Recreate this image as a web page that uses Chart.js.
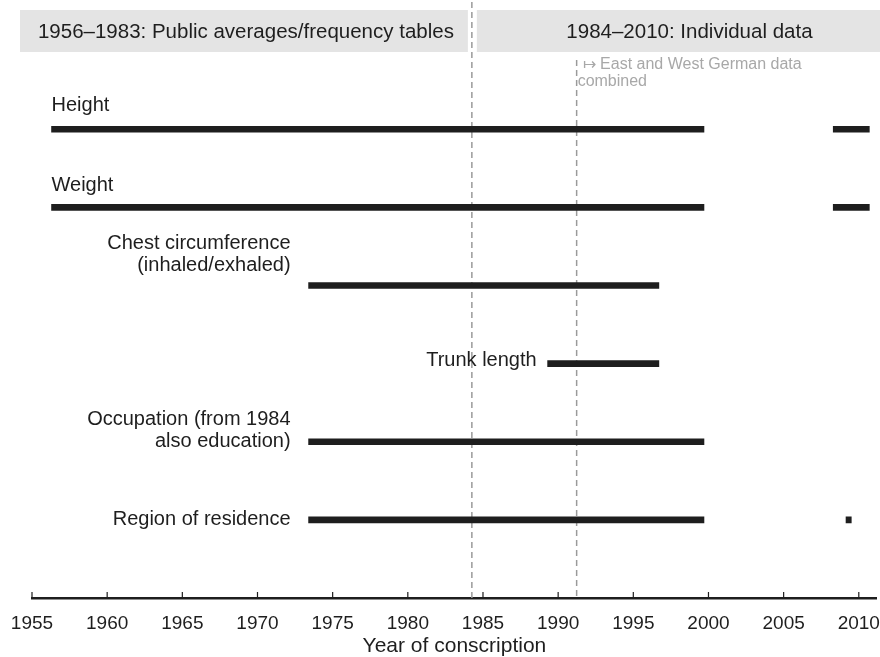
<!DOCTYPE html>
<html>
<head>
<meta charset="utf-8">
<script src="https://cdn.jsdelivr.net/npm/chart.js@4"></script>
<style>
  html, body { margin: 0; padding: 0; background: #fff; }
  #wrap { width: 880px; height: 657px; position: relative; }
</style>
</head>
<body>
<div id="wrap"><canvas id="chart"></canvas></div>
<script>
// variables (rows) and their year coverage
const rows = ["Height", "Weight", "Chest circumference", "Trunk length", "Occupation", "Region of residence"];
const rowLabels = [
  ["Height"],
  ["Weight"],
  ["Chest circumference", "(inhaled/exhaled)"],
  ["Trunk length"],
  ["Occupation (from 1984", "also education)"],
  ["Region of residence"]
];
const firstStart = [1956.3, 1956.3, 1973.4, 1989.3, 1973.4, 1973.4];
const firstEnd   = [1999.7, 1999.7, 1996.7, 1996.7, 1999.7, 1999.7];
const secondStart = [2008.3, 2008.3, null, null, null, 2009.15];
const secondEnd   = [2010.7, 2010.7, null, null, null, 2009.5];

const xTicks = [1955, 1960, 1965, 1970, 1975, 1980, 1985, 1990, 1995, 2000, 2005, 2010];
const periodBreaks = [1984.26, 1991.23];
const periodTitles = ["1956\u20131983: Public averages/frequency tables", "1984\u20132010: Individual data"];
const noteLines = ["\u21a6 East and West German data", "combined"];

// label placement: 'above' = above the bar, starting at it; 'before' = right-aligned before bar
const labelPlace = [
  { mode: "above", dy: -24 },
  { mode: "above", dy: -22 },
  { mode: "before", gap: 18, dy: -20 },
  { mode: "before", gap: 11, dy: -3 },
  { mode: "before", gap: 18, dy: 0 },
  { mode: "before", gap: 18, dy: 0 }
];

const FONT = "'Liberation Sans', Arial, sans-serif";
const BAR = "#1e1e1e";

function segs(starts, ends) {
  const out = [];
  starts.forEach((s, i) => {
    if (s !== null) out.push({ x: [s, ends[i]], y: i });
  });
  return out;
}

const overlay = {
  id: "overlay",
  beforeDatasetsDraw(chart) {
    const ctx = chart.ctx;
    const xs = chart.scales.x;
    const area = chart.chartArea;
    const b1 = xs.getPixelForValue(periodBreaks[0]);
    const b2 = xs.getPixelForValue(periodBreaks[1]);
    ctx.save();
    // header boxes
    ctx.fillStyle = "#e4e4e4";
    ctx.fillRect(20, 10, b1 - 4 - 20, 42);
    ctx.fillRect(b1 + 5, 10, chart.width - b1 - 5, 42);
    ctx.fillStyle = "#1e1e1e";
    ctx.font = "20.5px " + FONT;
    ctx.textAlign = "center";
    ctx.textBaseline = "middle";
    ctx.fillText(periodTitles[0], (20 + b1 - 4) / 2 + 2, 32);
    ctx.fillText(periodTitles[1], (b1 + 5 + chart.width) / 2 + 11, 32);
    // dashed period lines
    ctx.strokeStyle = "#9a9a9a";
    ctx.lineWidth = 1.5;
    ctx.setLineDash([6, 4]);
    ctx.beginPath();
    ctx.moveTo(b1, 2);
    ctx.lineTo(b1, area.bottom);
    ctx.moveTo(b2, 60);
    ctx.lineTo(b2, area.bottom);
    ctx.stroke();
    ctx.setLineDash([]);
    // note
    ctx.fillStyle = "#a8a8a8";
    ctx.font = "16px " + FONT;
    ctx.textAlign = "left";
    ctx.fillText(noteLines[0], b2 + 6, 65);
    ctx.fillText(noteLines[1], b2 + 1, 82);
    ctx.restore();
  },
  afterDatasetsDraw(chart) {
    const ctx = chart.ctx;
    const xs = chart.scales.x;
    const ys = chart.scales.y;
    const area = chart.chartArea;
    ctx.save();
    ctx.fillStyle = "#1e1e1e";
    ctx.font = "20px " + FONT;
    ctx.textBaseline = "middle";
    rowLabels.forEach((lines, i) => {
      const p = labelPlace[i];
      const y = ys.getPixelForValue(i) + p.dy;
      const x0 = xs.getPixelForValue(firstStart[i]);
      const n = lines.length;
      lines.forEach((t, k) => {
        const ly = y - (n - 1 - k) * 22;
        if (p.mode === "above") {
          ctx.textAlign = "left";
          ctx.fillText(t, x0, ly);
        } else {
          ctx.textAlign = "right";
          ctx.fillText(t, x0 - p.gap, ly);
        }
      });
    });
    // upward tick marks
    ctx.strokeStyle = "#1e1e1e";
    ctx.lineWidth = 1.2;
    ctx.beginPath();
    xTicks.forEach(v => {
      const px = xs.getPixelForValue(v);
      ctx.moveTo(px, area.bottom);
      ctx.lineTo(px, area.bottom - 6);
    });
    ctx.stroke();
    ctx.restore();
  }
};

new Chart(document.getElementById("chart"), {
  type: "bar",
  data: {
    datasets: [
      { label: "coverage", data: segs(firstStart, firstEnd), backgroundColor: BAR, barThickness: 6, grouped: false },
      { label: "coverage (later)", data: segs(secondStart, secondEnd), backgroundColor: BAR, barThickness: 6, grouped: false }
    ]
  },
  options: {
    indexAxis: "y",
    responsive: true,
    maintainAspectRatio: false,
    animation: false,
    layout: { padding: { left: 32, right: 3, top: 0, bottom: 0 } },
    plugins: {
      legend: { display: false },
      tooltip: { enabled: false }
    },
    scales: {
      x: {
        type: "linear",
        min: 1955,
        max: 2011.2,
        afterBuildTicks: axis => { axis.ticks = xTicks.map(v => ({ value: v })); },
        grid: { display: true, drawOnChartArea: false, drawTicks: true, tickLength: 16, tickColor: "rgba(0,0,0,0)" },
        border: { display: true, color: "#1e1e1e", width: 2.5 },
        ticks: {
          color: "#1e1e1e",
          padding: 0,
          font: { family: FONT, size: 19, lineHeight: 1 },
          maxRotation: 0,
          callback: v => String(v)
        },
        title: {
          display: true,
          text: "Year of conscription",
          color: "#1e1e1e",
          font: { family: FONT, size: 21, lineHeight: 1 },
          padding: { top: 3, bottom: 0 }
        }
      },
      y: {
        type: "linear",
        display: false,
        offset: false,
        reverse: true,
        min: -1.654,
        max: 6.0
      }
    }
  },
  plugins: [overlay]
});
</script>
</body>
</html>
